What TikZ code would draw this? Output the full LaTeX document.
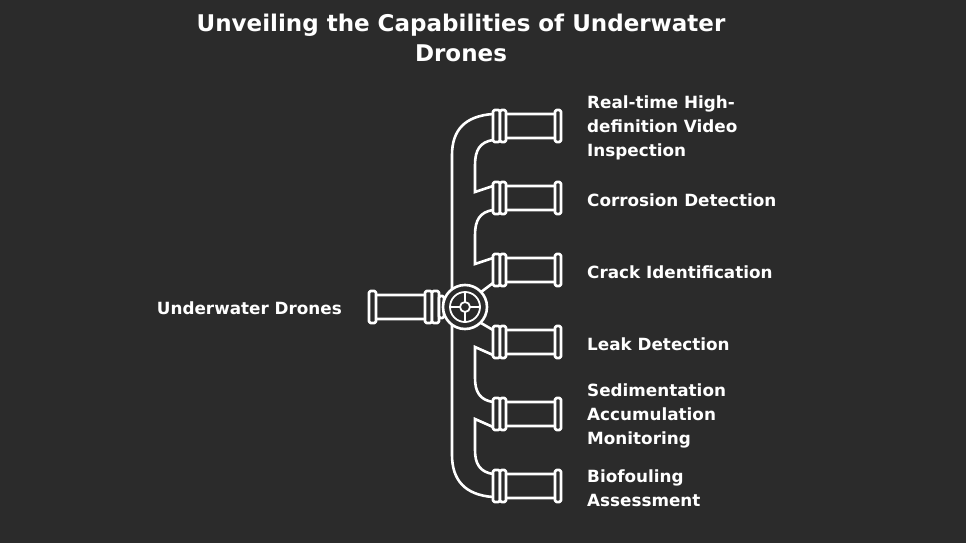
\documentclass[tikz,border=0pt]{standalone}
\usepackage{fontspec}
\setmainfont{DejaVu Sans}
\begin{document}
\begin{tikzpicture}[x=1pt,y=-1pt,
  pl/.style={draw=white,line width=2.6pt,fill=bg,line join=round,rounded corners=1.5pt},
  ln/.style={draw=white,line width=2.6pt,line cap=round},
  lbl/.style={text=white,font=\fontsize{16.8}{24}\selectfont\bfseries,anchor=west,align=left,inner sep=0pt},
  ttl/.style={text=white,font=\fontsize{23}{30}\selectfont\bfseries,align=center,inner sep=0pt}]
\definecolor{bg}{HTML}{2B2B2B}
\fill[bg] (0,0) rectangle (966,543);
\useasboundingbox (0,0) rectangle (966,543);
\node[ttl] (title) at (461,38) {Unveiling the Capabilities of Underwater\\Drones};
% trunk
\draw[ln] (493,114) .. controls (465,116) and (452,130) .. (452,155) -- (452,455) .. controls (452,480) and (465,495) .. (493,497);
\draw[ln] (493,140) .. controls (480,142) and (475,150) .. (475,165) -- (475,192) -- (493,186);
\draw[ln] (493,210) .. controls (480,212) and (475,220) .. (475,235) -- (475,264) -- (493,258);
\draw[ln] (493,283) -- (481,292);
\draw[ln] (481,323) -- (493,330);
\draw[ln] (493,355) -- (475,347) -- (475,378) .. controls (475,392) and (480,400) .. (493,402);
\draw[ln] (493,427) -- (475,419) -- (475,450) .. controls (475,464) and (480,472) .. (493,474);
% branches
\foreach \y/\n in {126/a,198/b,270/c,342/d,414/e,486/f}{
  \draw[pl] (505,\y-12) rectangle (557,\y+12);
  \draw[pl] (555,\y-16) rectangle (561,\y+16);
  \draw[pl] (493,\y-16) rectangle (500,\y+16);
  \draw[pl] (500,\y-16) rectangle (506,\y+16);
  \coordinate (p\n) at (561,\y);
}
% left pipe
\draw[pl] (375,295) rectangle (428,319);
\draw[pl] (369,291) rectangle (376,323);
\draw[pl] (425,291) rectangle (432,323);
\draw[pl] (432,291) rectangle (439,323);
\draw[pl] (439,296) rectangle (444,318);
% hub
\node[draw=white,line width=2.6pt,fill=bg,circle,minimum size=44pt,inner sep=0pt] (hub) at (465,307) {};
\draw[white,line width=1.8pt] (hub) circle (15);
\draw[white,line width=1.8pt] (hub) circle (5);
\draw[white,line width=1.8pt] (450,307) -- (460,307) (470,307) -- (480,307) (465,292) -- (465,302) (465,312) -- (465,322);
% labels
\node[lbl,anchor=east] (src) at (342,308) {Underwater Drones};
\node[lbl] (la) at (587,128) {Real-time High-\\definition Video\\Inspection};
\node[lbl] (lb) at (587,200) {Corrosion Detection};
\node[lbl] (lc) at (587,272) {Crack Identification};
\node[lbl] (ld) at (587,344) {Leak Detection};
\node[lbl] (le) at (587,416) {Sedimentation\\Accumulation\\Monitoring};
\node[lbl] (lf) at (587,488) {Biofouling\\Assessment};
\end{tikzpicture}
\end{document}
